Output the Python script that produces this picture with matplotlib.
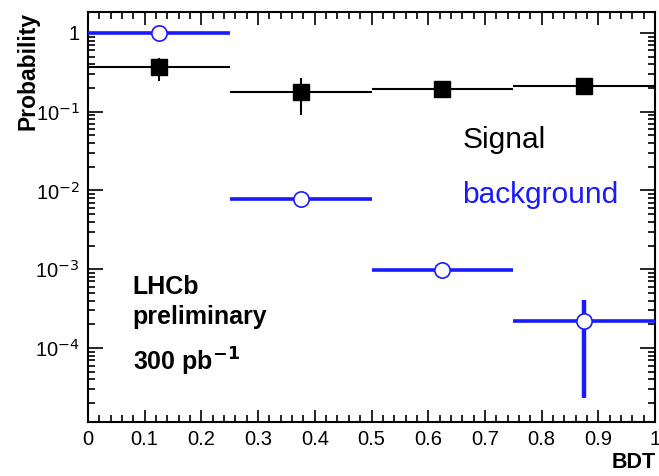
import matplotlib
matplotlib.use("Agg")
import matplotlib.pyplot as plt
from matplotlib.ticker import MultipleLocator, LogLocator, FixedLocator, NullFormatter
import numpy as np

plt.rcParams['font.family'] = ['Liberation Sans', 'DejaVu Sans']

# BDT bins
bin_lo = [0.0, 0.25, 0.5, 0.75]
bin_hi = [0.25, 0.5, 0.75, 1.0]

# signal probability per bin and asymmetric errors
sig = [0.37, 0.178, 0.197, 0.212]
sig_lo = [0.125, 0.087, 0.012, 0.012]
sig_hi = [0.11, 0.092, 0.012, 0.012]

# background probability per bin
bkg = [1.0, 0.0078, 0.00098, 0.00022]
bkg_lo = [0.0, 0.0, 0.0, 0.000197]
bkg_hi = [0.0, 0.0, 0.0, 0.00019]

ytick_vals = [1e-4, 1e-3, 1e-2, 1e-1, 1]
ytick_labels = ['10$^{-4}$', '10$^{-3}$', '10$^{-2}$', '10$^{-1}$', '1']
xtick_vals = [0, 0.1, 0.2, 0.3, 0.4, 0.5, 0.6, 0.7, 0.8, 0.9, 1.0]
xtick_labels = ['0', '0.1', '0.2', '0.3', '0.4', '0.5', '0.6', '0.7', '0.8', '0.9', '1']

fig = plt.figure(figsize=(6.59, 4.76), dpi=100)
ax = fig.add_axes([0.1335, 0.1134, 0.994 - 0.1335, 0.975 - 0.1134])

centers = [(a + b) / 2 for a, b in zip(bin_lo, bin_hi)]
halfw = [(b - a) / 2 for a, b in zip(bin_lo, bin_hi)]

blue = '#1a1aff'

ax.errorbar(centers, sig, xerr=halfw, yerr=[sig_lo, sig_hi], fmt='s', color='black',
            ms=11.5, lw=1.5, elinewidth=1.5, capsize=0, zorder=3)
# background: horizontal bin widths, then thicker vertical errors
ax.errorbar(centers, bkg, xerr=halfw, fmt='none', ecolor=blue, elinewidth=2.6,
            capsize=0, zorder=4)
ax.errorbar(centers, bkg, yerr=[bkg_lo, bkg_hi], fmt='o', color=blue,
            mfc='white', mec=blue, ms=11, mew=1.2, elinewidth=3.2, capsize=0, zorder=5)

ax.set_yscale('log')
ax.set_xlim(0, 1)
ax.set_ylim(1.15e-5, 1.85)

ax.xaxis.set_major_locator(FixedLocator(xtick_vals))
ax.set_xticklabels(xtick_labels)
ax.xaxis.set_minor_locator(MultipleLocator(0.02))
ax.yaxis.set_major_locator(FixedLocator(ytick_vals))
ax.set_yticklabels(ytick_labels)
ax.yaxis.set_minor_locator(LogLocator(base=10, subs=np.arange(2, 10), numticks=20))
ax.yaxis.set_minor_formatter(NullFormatter())

ax.tick_params(which='both', direction='in', top=True, right=True, width=1.2,
               labelsize=14.5, pad=6)
ax.tick_params(axis='x', which='major', length=9)
ax.tick_params(axis='y', which='major', length=11)
ax.tick_params(which='minor', length=5)
for s in ax.spines.values():
    s.set_linewidth(1.5)

fig.text(0.043, 0.975, 'Probability', rotation=90, ha='center', va='top',
         fontsize=16.5, fontweight='bold')
fig.text(0.995, 0.029, 'BDT', ha='right', va='center', fontsize=15.5, fontweight='bold')

ax.text(0.66, 0.044, 'Signal', color='black', fontsize=21.5, ha='left', va='center')
ax.text(0.66, 0.0088, 'background', color=blue, fontsize=21.5, ha='left', va='center')

ax.text(0.079, 0.0006, 'LHCb', fontsize=18, fontweight='bold', ha='left', va='center')
ax.text(0.079, 0.00025, 'preliminary', fontsize=18, fontweight='bold', ha='left', va='center')
ax.text(0.079, 0.000066, '300 pb$^{\\mathbf{-1}}$', fontsize=18, fontweight='bold',
        ha='left', va='center')

fig.savefig('out.png', dpi=100)
